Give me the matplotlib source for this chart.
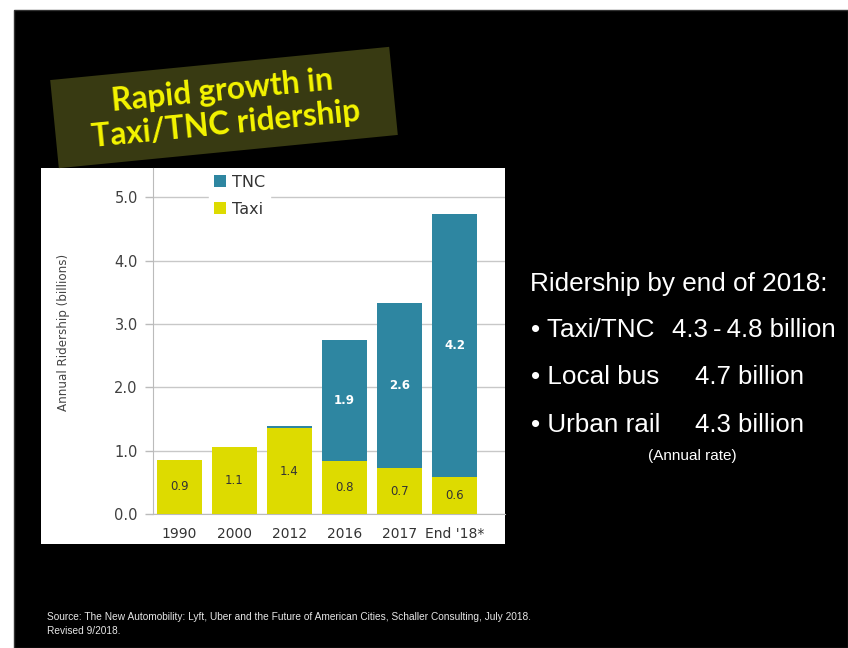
import numpy as np
import matplotlib
matplotlib.use('Agg')
import matplotlib.pyplot as plt
import matplotlib.patches as patches

# ===== DU LIEU =====
years = ['1990', '2000', '2012', '2016', '2017', "End '18*"]
taxi = [0.86, 1.05, 1.35, 0.84, 0.72, 0.58]
tnc = [0.0, 0.0, 0.04, 1.90, 2.61, 4.15]
taxi_labels = ['0.9', '1.1', '1.4', '0.8', '0.7', '0.6']
tnc_labels = ['', '', '', '1.9', '2.6', '4.2']
y_ticks = [0.0, 1.0, 2.0, 3.0, 4.0, 5.0]

side_items = ['Taxi/TNC', 'Local bus', 'Urban rail']
side_values = ['4.3\u2009-\u20094.8 billion', '4.7 billion', '4.3 billion']

TNC_COLOR = '#2E86A1'
TAXI_COLOR = '#DDDB00'
W, H = 848, 648

fig = plt.figure(figsize=(W / 100, H / 100), dpi=100, facecolor='white')

# nen cua slide (toa do pixel)
bg = fig.add_axes([0, 0, 1, 1])
bg.set_xlim(0, W)
bg.set_ylim(H, 0)
bg.axis('off')
bg.add_patch(patches.Rectangle((14, 10), W - 14, H - 10, facecolor='black',
                               edgecolor='#333333', linewidth=1))
# khung trang cua bieu do
bg.add_patch(patches.Rectangle((41, 168), 464, 376, facecolor='white', edgecolor='none'))

# hop tieu de xoay
ang = np.deg2rad(5.6)
cx, cy, bw, bh = 224, 107.5, 340.6, 88.5
u = np.array([np.cos(ang), -np.sin(ang)])
v = np.array([np.sin(ang), np.cos(ang)])
c = np.array([cx, cy])
corners = [c - bw / 2 * u - bh / 2 * v, c + bw / 2 * u - bh / 2 * v,
           c + bw / 2 * u + bh / 2 * v, c - bw / 2 * u + bh / 2 * v]
bg.add_patch(patches.Polygon(corners, closed=True, facecolor='#383A12', edgecolor='none'))
for line, off in [('Rapid growth in', -16.5), ('Taxi/TNC ridership', 16.5)]:
    p = c + off * v
    bg.text(p[0], p[1], line, color='#F5F500', fontsize=22.8, fontweight='bold',
            family=['Lato', 'DejaVu Sans'], ha='center', va='center',
            rotation=5.6, rotation_mode='anchor')

# chu ben phai
sans = ['Liberation Sans', 'DejaVu Sans']
bg.text(530, 284, 'Ridership by end of 2018:', color='white', fontsize=18.8,
        family=sans, ha='left', va='center')
for i, (name, val) in enumerate(zip(side_items, side_values)):
    yy = 330 + i * 47.5
    bg.text(531, yy, '\u2022 ' + name, color='white', fontsize=18.8, family=sans,
            ha='left', va='center')
    bg.text(672 if i == 0 else 695, yy, val, color='white', fontsize=18.5, family=sans,
            ha='left', va='center')
bg.text(692, 456, '(Annual rate)', color='white', fontsize=11, family=sans,
        ha='center', va='center')

bg.text(47, 617, 'Source: The New Automobility: Lyft, Uber and the Future of American '
        'Cities, Schaller Consulting, July 2018.', color='#E6E6E6', fontsize=7.3,
        family=sans, ha='left', va='center')
bg.text(47, 631, 'Revised 9/2018.', color='#E6E6E6', fontsize=7.3, family=sans,
        ha='left', va='center')

# ===== BIEU DO COT =====
ax = fig.add_axes([153 / W, (H - 514) / H, (505 - 153) / W, (514 - 168) / H])
ax.set_facecolor('white')
x = np.arange(len(years))
b_taxi = ax.bar(x, taxi, width=0.82, color=TAXI_COLOR, label='Taxi', zorder=3)
b_tnc = ax.bar(x, tnc, width=0.82, bottom=taxi, color=TNC_COLOR, label='TNC', zorder=3)
ax.bar_label(b_taxi, labels=taxi_labels, label_type='center', fontsize=8.5,
             color='#333333')
ax.bar_label(b_tnc, labels=tnc_labels, label_type='center', fontsize=8.5,
             color='white', fontweight='bold')

ax.set_xlim(-0.482, 5.918)
ax.set_ylim(0, 5.46)
ax.set_yticks(y_ticks)
ax.set_yticklabels([f'{t:.1f}' for t in y_ticks])
ax.set_xticks(x)
ax.set_xticklabels(years)
ax.tick_params(axis='y', length=6, width=1, color='#BBBBBB', pad=5,
               labelsize=10.5, labelcolor='#404040')
ax.tick_params(axis='x', length=0, pad=9, labelsize=10, labelcolor='#333333')
ax.grid(axis='y', color='#C8C8C8', linewidth=1, zorder=0)
ax.set_axisbelow(True)
for s in ['top', 'right']:
    ax.spines[s].set_visible(False)
ax.spines['left'].set_color('#BBBBBB')
ax.spines['bottom'].set_color('#BBBBBB')

ax.set_ylabel('Annual Ridership (billions)', fontsize=8.6, color='#444444',
              family=['Liberation Sans Narrow', 'DejaVu Sans Condensed', 'DejaVu Sans'])
ax.yaxis.set_label_coords(-0.235, 0.526)

leg = ax.legend(handles=[b_tnc, b_taxi], loc='upper left', bbox_to_anchor=(0.16, 0.994),
                borderaxespad=0, borderpad=0.3, fontsize=11.5, handlelength=0.75,
                handleheight=0.75, handletextpad=0.35, labelspacing=0.75,
                frameon=True, fancybox=False, framealpha=1, facecolor='white',
                edgecolor='white')
for t in leg.get_texts():
    t.set_color('#333333')

fig.savefig('out.png', dpi=100, facecolor='white')
